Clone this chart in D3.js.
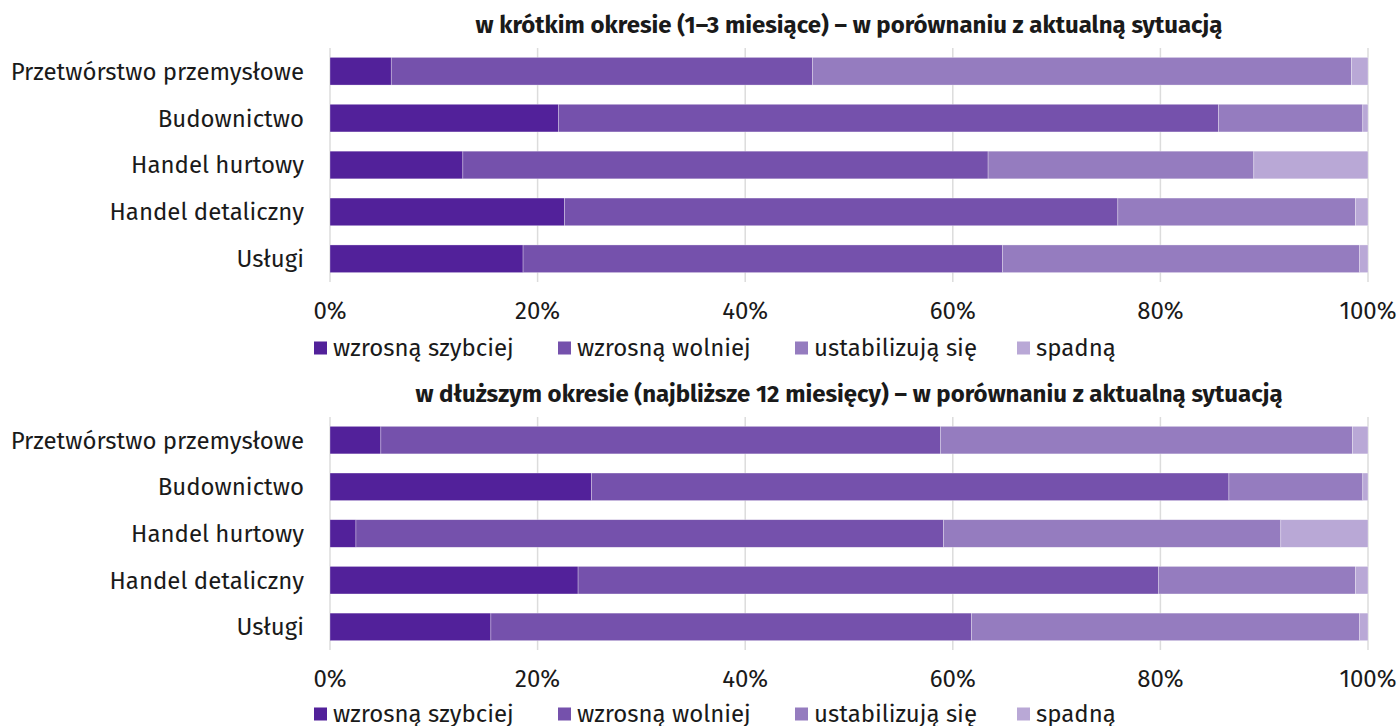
<!DOCTYPE html>
<html><head><meta charset="utf-8">
<script src="https://cdn.jsdelivr.net/npm/d3@7"></script>
<style>
html,body{margin:0;padding:0;background:#fff;}
svg text{font-family:"Fira Sans","Roboto","Noto Sans",sans-serif;fill:#1a1a1a;}
</style></head>
<body><svg id="chart" width="1400" height="726"></svg>
<script>
const categories = ["Przetwórstwo przemysłowe","Budownictwo","Handel hurtowy","Handel detaliczny","Usługi"];
const seriesNames = ["wzrosną szybciej","wzrosną wolniej","ustabilizują się","spadną"];
const seriesColors = ["#52219a","#7551ac","#957cbf","#b9a8d6"];
const tickValues = [0,20,40,60,80,100];
const tickLabels = ["0%","20%","40%","60%","80%","100%"];
const titleShort = "w krótkim okresie (1–3 miesiące) – w porównaniu z aktualną sytuacją";
const titleLong = "w dłuższym okresie (najbliższe 12 miesięcy) – w porównaniu z aktualną sytuacją";
// short term (1-3 months)
const shortFaster = [5.9, 22.0, 12.8, 22.6, 18.6];
const shortSlower = [40.6, 63.6, 50.6, 53.3, 46.2];
const shortStable = [51.9, 13.9, 25.6, 22.9, 34.4];
const shortFall   = [1.6, 0.5, 11.0, 1.2, 0.8];
// long term (12 months)
const longFaster = [4.9, 25.2, 2.5, 23.9, 15.5];
const longSlower = [53.9, 61.4, 56.6, 55.9, 46.3];
const longStable = [39.7, 12.9, 32.5, 19.0, 37.4];
const longFall   = [1.5, 0.5, 8.4, 1.2, 0.8];

const svg = d3.select("#chart");
const x = d3.scaleLinear().domain([0,100]).range([330,1368]);

function panel(title, series, top, bottom, titleY, tickY, legendY){
  const g = svg.append("g");
  const rows = categories.map((c,i)=>{
    const r = {cat:c};
    seriesNames.forEach((s,k)=>r[s]=series[k][i]);
    return r;
  });
  const stack = d3.stack().keys(seriesNames)(rows);
  const y = d3.scaleBand().domain(categories).range([top,bottom]).paddingInner(0.41).paddingOuter(0.2);
  // grid
  g.append("g").selectAll("line").data(tickValues).join("line")
    .attr("x1",d=>x(d)).attr("x2",d=>x(d)).attr("y1",top).attr("y2",bottom)
    .attr("stroke","#dcdcdc").attr("stroke-width",1.5);
  // bars
  g.append("g").selectAll("g").data(stack).join("g")
    .attr("fill",(d,i)=>seriesColors[i])
    .selectAll("rect").data(d=>d).join("rect")
    .attr("x",d=>x(d[0])).attr("width",d=>x(d[1])-x(d[0]))
    .attr("y",d=>y(d.data.cat)).attr("height",y.bandwidth())
    .attr("stroke","#ffffff").attr("stroke-opacity",0.5).attr("stroke-width",0.6);
  // category labels
  g.append("g").selectAll("text").data(categories).join("text")
    .attr("x",304).attr("y",d=>y(d)+y.bandwidth()/2).attr("dy","0.35em")
    .attr("text-anchor","end").attr("font-size",24).text(d=>d);
  // title
  g.append("text").attr("x",(x(0)+x(100))/2).attr("y",titleY).attr("dy","0.35em")
    .attr("text-anchor","middle").attr("font-size",24).attr("font-weight","bold").text(title);
  // ticks
  g.append("g").selectAll("text").data(tickValues).join("text")
    .attr("x",d=>x(d)).attr("y",tickY).attr("dy","0.35em")
    .attr("text-anchor","middle").attr("font-size",24).text((d,i)=>tickLabels[i]);
  // legend
  const legX = [314, 558, 795, 1017];
  const lg = g.append("g").selectAll("g").data(seriesNames).join("g")
    .attr("transform",(d,i)=>`translate(${legX[i]},${legendY})`);
  lg.append("rect").attr("x",0).attr("y",-6.5).attr("width",13).attr("height",13)
    .attr("fill",(d,i)=>seriesColors[i]);
  lg.append("text").attr("x",19).attr("y",0).attr("dy","0.35em").attr("font-size",24).text(d=>d);
}
panel(titleShort,[shortFaster,shortSlower,shortStable,shortFall],48,282,25,311,348);
panel(titleLong,[longFaster,longSlower,longStable,longFall],417,650,394,679,714);
</script></body></html>
